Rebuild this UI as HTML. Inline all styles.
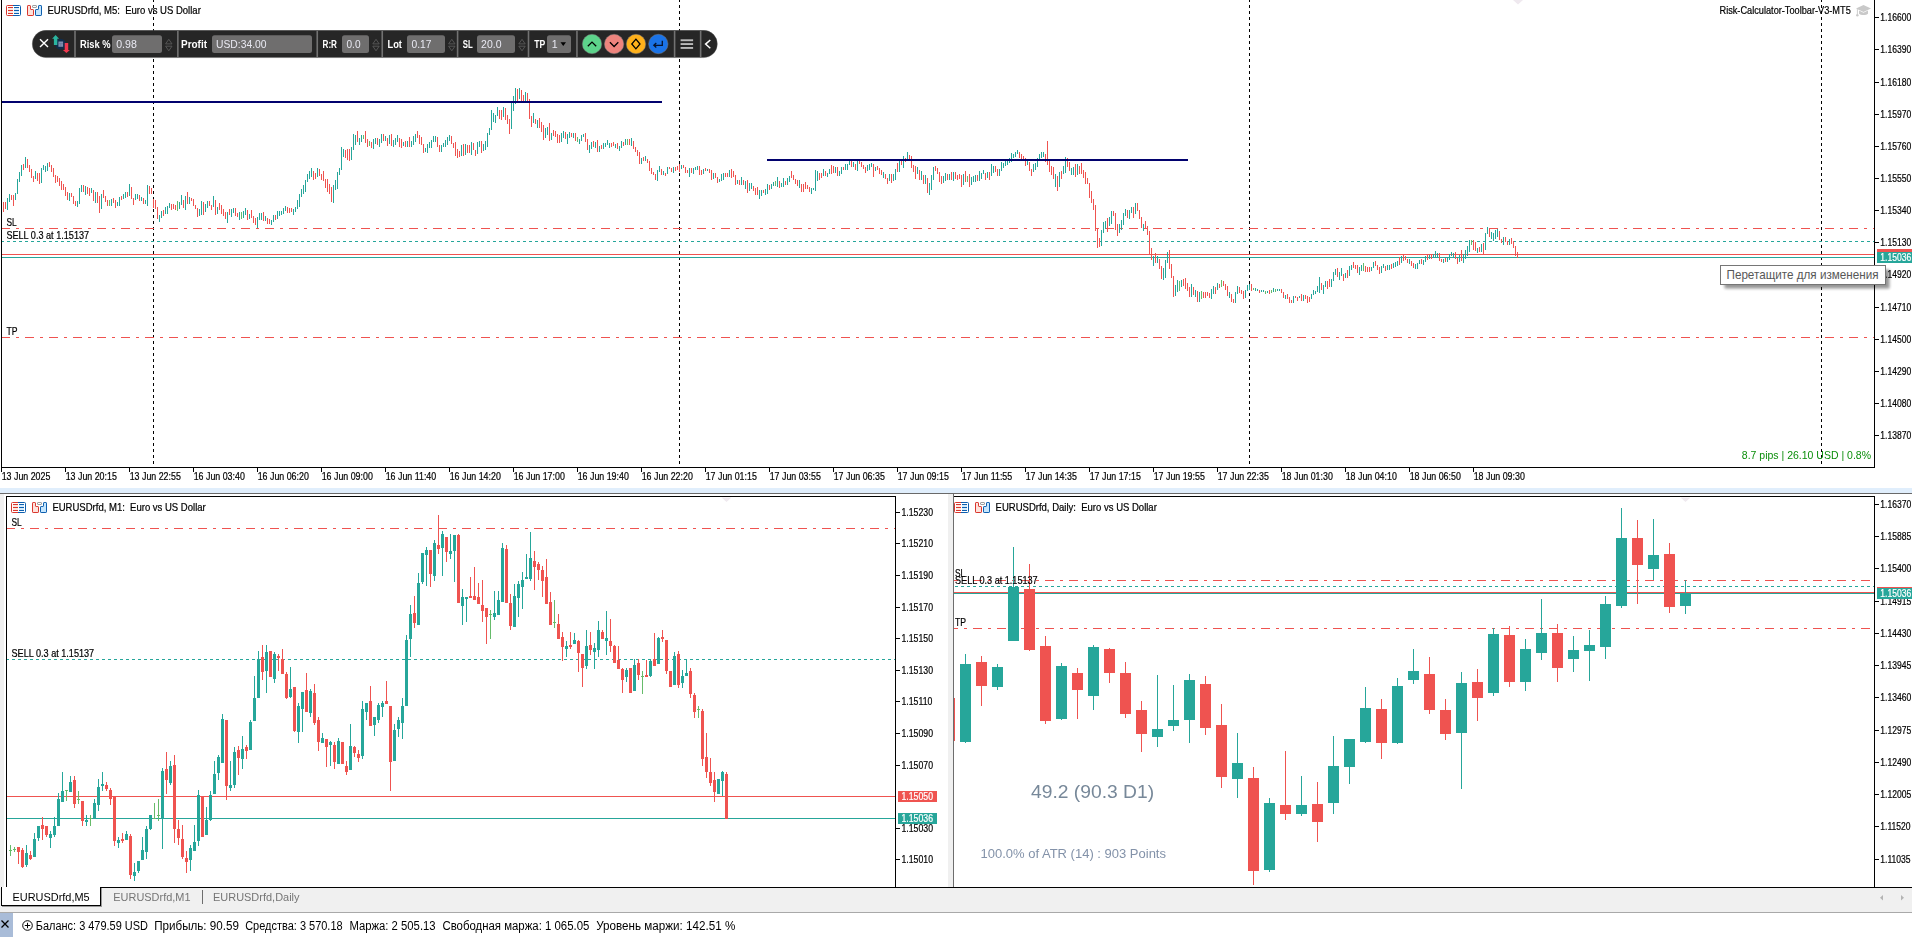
<!DOCTYPE html>
<html lang="ru"><head><meta charset="utf-8"><title>EURUSDrfd</title>
<style>html,body{margin:0;padding:0;background:#fff;width:1912px;height:937px;overflow:hidden}</style></head>
<body>
<svg width="1912" height="937" viewBox="0 0 1912 937" font-family='"Liberation Sans", sans-serif' style="display:block">
<rect x="0" y="0" width="1912" height="937" fill="#fff"/>
<g opacity="0.999">
<g shape-rendering="crispEdges">
<rect x="0" y="488" width="1912" height="5" fill="#e0eefc"/>
<rect x="0" y="493" width="1912" height="1" fill="#696969"/>
<rect x="0" y="494" width="4" height="393" fill="#f0f0f0"/>
<rect x="948" y="494" width="5" height="393" fill="#f0f0f0"/>
<rect x="953" y="494" width="1" height="393" fill="#6d6d6d"/>
<rect x="0" y="888" width="1912" height="24" fill="#f0f0f0"/>
<rect x="0" y="912" width="1912" height="1" fill="#a9a9a9"/>
<rect x="100" y="887" width="1812" height="1" fill="#000"/>
<rect x="1" y="887" width="100" height="19" fill="#fff"/>
<rect x="1" y="887" width="1" height="19" fill="#000"/>
<rect x="100" y="887" width="1" height="19" fill="#000"/>
<rect x="1" y="905" width="100" height="1" fill="#000"/>
<rect x="101" y="888" width="1" height="18" fill="#9a9a9a"/>
<rect x="2" y="906" width="100" height="1" fill="#9a9a9a"/>
<rect x="202" y="890" width="1" height="14" fill="#6d6d6d"/>
<rect x="0" y="913" width="1912" height="24" fill="#fff"/>
<rect x="0" y="913" width="13" height="24" fill="#a9bcd8"/>
</g>
<g shape-rendering="crispEdges">
<rect x="1" y="0" width="1" height="468" fill="#000"/>
<rect x="1" y="467" width="1874" height="1" fill="#000"/>
<rect x="1874" y="0" width="1" height="468" fill="#000"/>
<rect x="1875" y="17" width="4" height="1" fill="#000"/>
<rect x="1875" y="49" width="4" height="1" fill="#000"/>
<rect x="1875" y="82" width="4" height="1" fill="#000"/>
<rect x="1875" y="114" width="4" height="1" fill="#000"/>
<rect x="1875" y="146" width="4" height="1" fill="#000"/>
<rect x="1875" y="178" width="4" height="1" fill="#000"/>
<rect x="1875" y="210" width="4" height="1" fill="#000"/>
<rect x="1875" y="242" width="4" height="1" fill="#000"/>
<rect x="1875" y="274" width="4" height="1" fill="#000"/>
<rect x="1875" y="307" width="4" height="1" fill="#000"/>
<rect x="1875" y="339" width="4" height="1" fill="#000"/>
<rect x="1875" y="371" width="4" height="1" fill="#000"/>
<rect x="1875" y="403" width="4" height="1" fill="#000"/>
<rect x="1875" y="435" width="4" height="1" fill="#000"/>
<rect x="1" y="468" width="1" height="4" fill="#000"/>
<rect x="65" y="468" width="1" height="4" fill="#000"/>
<rect x="129" y="468" width="1" height="4" fill="#000"/>
<rect x="193" y="468" width="1" height="4" fill="#000"/>
<rect x="257" y="468" width="1" height="4" fill="#000"/>
<rect x="321" y="468" width="1" height="4" fill="#000"/>
<rect x="385" y="468" width="1" height="4" fill="#000"/>
<rect x="449" y="468" width="1" height="4" fill="#000"/>
<rect x="513" y="468" width="1" height="4" fill="#000"/>
<rect x="577" y="468" width="1" height="4" fill="#000"/>
<rect x="641" y="468" width="1" height="4" fill="#000"/>
<rect x="705" y="468" width="1" height="4" fill="#000"/>
<rect x="769" y="468" width="1" height="4" fill="#000"/>
<rect x="833" y="468" width="1" height="4" fill="#000"/>
<rect x="897" y="468" width="1" height="4" fill="#000"/>
<rect x="961" y="468" width="1" height="4" fill="#000"/>
<rect x="1025" y="468" width="1" height="4" fill="#000"/>
<rect x="1089" y="468" width="1" height="4" fill="#000"/>
<rect x="1153" y="468" width="1" height="4" fill="#000"/>
<rect x="1217" y="468" width="1" height="4" fill="#000"/>
<rect x="1281" y="468" width="1" height="4" fill="#000"/>
<rect x="1345" y="468" width="1" height="4" fill="#000"/>
<rect x="1409" y="468" width="1" height="4" fill="#000"/>
<rect x="1473" y="468" width="1" height="4" fill="#000"/>
<line x1="153.5" y1="0" x2="153.5" y2="467" stroke="#000" stroke-width="1" stroke-dasharray="3 3" stroke-dashoffset="1"/>
<line x1="679.5" y1="0" x2="679.5" y2="467" stroke="#000" stroke-width="1" stroke-dasharray="3 3" stroke-dashoffset="1"/>
<line x1="1249.5" y1="0" x2="1249.5" y2="467" stroke="#000" stroke-width="1" stroke-dasharray="3 3" stroke-dashoffset="1"/>
<line x1="1821.5" y1="0" x2="1821.5" y2="467" stroke="#000" stroke-width="1" stroke-dasharray="3 3" stroke-dashoffset="1"/>
<line x1="2" y1="228.5" x2="1874" y2="228.5" stroke="#ef5350" stroke-width="1" stroke-dasharray="9 6 3 6" stroke-dashoffset="1"/>
<line x1="2" y1="241.5" x2="1874" y2="241.5" stroke="#26a69a" stroke-width="1" stroke-dasharray="3 3" stroke-dashoffset="1"/>
<line x1="2" y1="337.5" x2="1874" y2="337.5" stroke="#ef5350" stroke-width="1" stroke-dasharray="9 6 3 6" stroke-dashoffset="1"/>
<rect x="2" y="254" width="1872" height="1" fill="#ef5350"/>
<rect x="2" y="257" width="1872" height="1" fill="#26a69a"/>
<path d="M3.5 202v10M5.5 202v7M11.5 195v5M13.5 195v11M23.5 164v6M27.5 159v9M29.5 165v7M31.5 169v9M33.5 176v6M37.5 173v8M39.5 173v11M49.5 162v5M51.5 165v7M53.5 168v9M55.5 175v8M57.5 176v6M59.5 178v8M61.5 181v9M63.5 184v6M65.5 187v9M67.5 192v8M71.5 193v4M73.5 196v8M75.5 201v5M83.5 185v7M87.5 187v7M89.5 188v8M93.5 190v11M97.5 192v11M99.5 196v17M103.5 190v8M105.5 196v6M107.5 200v6M113.5 198v5M115.5 200v8M121.5 196v4M127.5 192v5M131.5 187v12M133.5 198v7M139.5 195v6M143.5 198v6M149.5 186v8M151.5 188v6M153.5 199v9M155.5 200v9M157.5 207v12M163.5 210v6M171.5 204v6M173.5 204v5M175.5 205v5M183.5 200v8M187.5 192v12M191.5 198v3M193.5 199v7M195.5 205v4M197.5 208v9M203.5 202v13M209.5 201v5M211.5 205v5M215.5 200v15M219.5 203v7M221.5 205v9M223.5 209v7M225.5 212v7M229.5 209v6M235.5 208v8M237.5 213v4M247.5 210v10M251.5 210v8M253.5 216v7M255.5 218v7M263.5 212v9M267.5 218v6M269.5 219v5M275.5 215v5M287.5 207v6M289.5 208v5M291.5 208v4M313.5 171v9M315.5 173v6M319.5 169v7M321.5 174v6M323.5 171v10M325.5 179v9M327.5 179v13M329.5 184v10M331.5 187v15M345.5 150v8M347.5 149v11M349.5 149v12M357.5 131v11M365.5 131v12M367.5 139v8M371.5 142v6M377.5 138v7M383.5 134v7M387.5 138v8M391.5 134v12M399.5 138v9M401.5 139v9M405.5 141v6M409.5 137v10M417.5 131v7M419.5 135v9M421.5 137v8M423.5 144v9M437.5 137v10M439.5 145v7M451.5 136v8M453.5 143v5M455.5 142v14M457.5 149v9M459.5 151v6M463.5 144v12M467.5 145v8M469.5 145v8M473.5 143v7M475.5 150v6M481.5 141v12M499.5 110v9M501.5 110v10M505.5 108v12M507.5 115v9M509.5 119v15M517.5 89v12M521.5 90v11M523.5 95v6M527.5 93v8M529.5 99v20M531.5 116v11M535.5 119v5M539.5 118v10M541.5 122v10M543.5 125v15M549.5 123v18M553.5 130v6M555.5 131v6M557.5 134v9M559.5 135v8M565.5 132v7M571.5 133v4M575.5 133v8M585.5 133v9M587.5 139v11M593.5 141v6M597.5 140v12M601.5 145v4M611.5 143v4M613.5 142v4M617.5 143v6M623.5 142v4M629.5 139v6M633.5 141v8M635.5 147v5M637.5 150v6M639.5 152v12M643.5 157v4M647.5 159v4M649.5 161v10M651.5 168v6M653.5 172v3M655.5 174v6M661.5 169v6M665.5 173v3M669.5 167v2M671.5 168v4M675.5 167v4M677.5 166v4M679.5 164v8M683.5 165v3M685.5 167v6M687.5 170v3M691.5 168v5M699.5 166v9M701.5 170v5M705.5 168v3M709.5 169v4M711.5 170v10M715.5 173v5M717.5 177v6M725.5 173v4M727.5 173v4M731.5 169v9M733.5 171v6M735.5 175v10M739.5 180v5M743.5 180v5M747.5 180v13M753.5 186v5M755.5 188v7M757.5 187v8M763.5 190v3M769.5 185v5M779.5 181v7M785.5 181v4M791.5 171v7M793.5 175v5M795.5 179v5M797.5 180v6M801.5 184v8M803.5 184v8M805.5 182v7M807.5 185v4M809.5 187v5M819.5 173v7M821.5 173v5M825.5 171v5M831.5 165v9M833.5 166v7M837.5 167v9M843.5 167v3M851.5 161v6M855.5 164v6M859.5 161v3M861.5 162v5M863.5 165v4M865.5 167v6M873.5 164v13M877.5 166v4M879.5 168v6M881.5 170v5M885.5 174v5M887.5 178v6M891.5 174v9M897.5 163v9M901.5 161v4M905.5 158v4M909.5 155v4M911.5 156v12M913.5 165v7M915.5 166v13M919.5 170v10M923.5 175v9M927.5 178v15M935.5 166v5M937.5 168v6M939.5 172v10M941.5 176v8M947.5 174v6M951.5 172v8M955.5 172v7M957.5 175v5M959.5 174v5M961.5 175v12M965.5 171v11M969.5 174v13M977.5 175v6M985.5 173v7M989.5 172v8M995.5 166v6M997.5 169v7M1019.5 152v6M1021.5 154v5M1023.5 156v3M1025.5 158v8M1029.5 162v9M1031.5 169v7M1045.5 154v8M1047.5 141v24M1049.5 161v11M1051.5 166v9M1053.5 167v12M1057.5 176v15M1061.5 171v8M1067.5 158v9M1069.5 162v9M1075.5 164v13M1079.5 166v8M1081.5 163v11M1083.5 170v8M1085.5 172v12M1087.5 178v6M1089.5 183v15M1091.5 191v12M1093.5 199v11M1095.5 205v26M1097.5 228v20M1099.5 238v9M1107.5 218v14M1113.5 211v5M1115.5 213v17M1117.5 224v12M1127.5 210v8M1133.5 207v11M1137.5 203v8M1139.5 210v9M1141.5 217v11M1145.5 221v8M1147.5 226v9M1149.5 231v24M1151.5 248v12M1155.5 253v10M1159.5 259v10M1161.5 266v13M1169.5 250v19M1171.5 264v14M1173.5 276v21M1183.5 279v7M1185.5 278v11M1187.5 283v8M1189.5 287v10M1193.5 287v8M1197.5 291v11M1203.5 292v6M1205.5 292v6M1207.5 292v4M1209.5 293v5M1215.5 287v7M1219.5 284v4M1223.5 281v5M1225.5 284v6M1227.5 286v10M1231.5 294v8M1233.5 299v4M1239.5 287v6M1241.5 290v4M1243.5 291v8M1251.5 284v7M1259.5 290v3M1269.5 290v4M1281.5 289v4M1283.5 292v6M1287.5 294v5M1289.5 297v6M1291.5 300v3M1295.5 296v2M1297.5 297v4M1301.5 294v7M1305.5 295v4M1307.5 296v7M1309.5 297v5M1321.5 283v7M1327.5 281v8M1329.5 279v8M1337.5 268v9M1343.5 274v7M1347.5 270v8M1353.5 262v6M1355.5 265v4M1357.5 265v8M1365.5 266v6M1367.5 267v5M1369.5 267v5M1375.5 261v5M1377.5 265v5M1379.5 267v7M1385.5 266v5M1391.5 264v5M1399.5 257v8M1403.5 254v7M1405.5 256v4M1407.5 259v4M1411.5 261v5M1413.5 263v5M1421.5 259v5M1427.5 255v5M1431.5 254v5M1439.5 253v8M1441.5 259v3M1445.5 258v4M1455.5 252v7M1457.5 258v6M1461.5 250v11M1473.5 240v10M1475.5 242v9M1479.5 247v5M1483.5 243v11M1489.5 228v9M1499.5 231v9M1501.5 239v4M1505.5 237v5M1507.5 241v4M1511.5 238v6M1513.5 241v7M1515.5 246v10M1517.5 252v6" stroke="#ef5350" stroke-width="1" fill="none"/><path d="M7.5 198v12M9.5 194v8M15.5 193v7M17.5 179v15M19.5 172v10M21.5 165v11M25.5 157v11M35.5 171v8M41.5 168v15M43.5 165v5M45.5 166v6M47.5 163v8M69.5 193v8M77.5 201v6M79.5 188v16M81.5 185v7M85.5 186v9M91.5 188v5M95.5 192v11M101.5 194v15M111.5 199v7M117.5 202v4M119.5 197v9M123.5 194v5M125.5 192v6M129.5 184v12M135.5 194v6M137.5 194v5M141.5 197v4M145.5 200v4M147.5 185v21M159.5 215v7M161.5 211v7M165.5 207v7M167.5 206v8M169.5 203v5M179.5 202v7M181.5 195v10M185.5 196v14M189.5 197v7M199.5 209v7M201.5 201v14M205.5 204v8M207.5 201v7M213.5 196v11M217.5 207v7M227.5 212v11M231.5 209v8M233.5 208v5M239.5 212v8M243.5 211v7M245.5 208v7M249.5 214v5M257.5 217v11M259.5 213v7M261.5 213v7M265.5 216v5M271.5 220v5M273.5 215v7M277.5 211v8M279.5 211v5M281.5 211v4M283.5 208v6M285.5 206v5M293.5 209v6M295.5 207v5M297.5 200v9M299.5 194v13M301.5 189v8M303.5 185v9M305.5 180v12M307.5 174v8M309.5 171v8M311.5 168v9M317.5 168v9M333.5 185v18M335.5 180v10M337.5 172v17M339.5 168v7M341.5 147v23M343.5 149v8M351.5 147v13M353.5 134v16M355.5 135v10M359.5 138v7M361.5 135v7M373.5 139v10M375.5 138v6M379.5 139v8M381.5 134v9M385.5 136v5M389.5 135v9M393.5 140v7M395.5 138v7M397.5 135v7M403.5 142v4M407.5 141v6M411.5 141v6M413.5 136v9M415.5 134v8M425.5 148v4M427.5 144v9M429.5 142v6M431.5 140v8M433.5 136v6M435.5 136v6M441.5 145v7M443.5 143v4M445.5 140v7M447.5 137v8M449.5 135v6M461.5 145v11M465.5 144v11M471.5 142v13M477.5 142v12M479.5 141v6M483.5 144v7M485.5 141v9M487.5 133v14M489.5 128v7M491.5 110v20M493.5 113v9M495.5 115v8M497.5 107v9M503.5 107v10M511.5 103v26M513.5 96v15M515.5 88v16M519.5 88v11M525.5 92v9M533.5 113v10M537.5 120v8M545.5 128v10M547.5 127v8M551.5 133v7M561.5 133v9M563.5 131v7M567.5 134v10M569.5 132v6M573.5 133v5M579.5 139v5M581.5 135v6M583.5 134v3M589.5 145v8M591.5 142v7M595.5 142v6M599.5 146v6M603.5 143v6M605.5 143v4M607.5 140v5M609.5 143v5M615.5 144v4M619.5 146v5M621.5 141v7M625.5 139v6M631.5 138v8M641.5 158v6M645.5 156v5M657.5 170v11M659.5 166v6M663.5 171v4M667.5 167v7M673.5 167v6M681.5 165v4M689.5 168v9M693.5 168v6M695.5 167v3M697.5 166v4M703.5 169v5M707.5 169v2M713.5 173v6M719.5 179v3M721.5 174v7M723.5 173v7M729.5 170v7M737.5 180v4M741.5 177v8M745.5 181v8M749.5 183v8M751.5 183v6M759.5 190v9M761.5 190v6M765.5 189v6M767.5 184v10M771.5 184v5M773.5 182v4M777.5 177v10M781.5 183v4M783.5 178v9M787.5 178v7M789.5 176v6M799.5 180v8M811.5 188v6M813.5 188v2M815.5 170v21M817.5 171v10M823.5 169v7M827.5 173v4M829.5 169v5M835.5 167v6M839.5 171v5M841.5 167v7M845.5 164v6M847.5 164v6M849.5 161v4M853.5 162v5M857.5 161v10M867.5 165v6M869.5 164v6M871.5 163v4M875.5 167v4M883.5 172v6M889.5 174v7M893.5 174v7M895.5 169v11M899.5 161v11M903.5 156v12M907.5 152v7M917.5 167v7M921.5 171v9M925.5 175v9M929.5 183v12M931.5 175v15M933.5 167v13M943.5 176v7M945.5 173v8M949.5 174v6M953.5 172v9M963.5 174v11M971.5 177v8M973.5 176v6M975.5 175v7M979.5 171v10M981.5 173v6M983.5 170v4M987.5 172v6M991.5 164v12M993.5 166v7M999.5 169v7M1001.5 162v9M1003.5 163v5M1005.5 161v5M1007.5 160v5M1009.5 158v5M1011.5 153v9M1013.5 154v4M1015.5 152v5M1017.5 150v4M1027.5 161v4M1033.5 164v8M1035.5 163v7M1037.5 158v9M1039.5 154v6M1041.5 152v6M1043.5 152v5M1055.5 174v13M1059.5 172v15M1063.5 166v8M1065.5 157v16M1071.5 168v7M1073.5 167v8M1077.5 164v11M1101.5 230v16M1103.5 222v11M1105.5 221v8M1109.5 217v9M1111.5 211v13M1119.5 224v9M1121.5 220v10M1123.5 213v12M1125.5 209v7M1129.5 210v9M1131.5 207v6M1135.5 203v11M1143.5 224v7M1153.5 256v10M1157.5 256v7M1163.5 268v12M1165.5 260v18M1167.5 252v11M1175.5 285v11M1177.5 280v12M1181.5 280v7M1191.5 284v13M1195.5 290v7M1199.5 292v10M1211.5 289v10M1213.5 286v8M1217.5 283v7M1229.5 292v6M1235.5 292v11M1237.5 286v8M1245.5 290v8M1247.5 285v6M1249.5 284v6M1255.5 288v3M1257.5 289v2M1261.5 290v2M1263.5 290v2M1267.5 291v2M1273.5 288v4M1277.5 289v2M1279.5 289v2M1285.5 295v4M1293.5 296v7M1299.5 296v2M1303.5 295v6M1311.5 294v5M1313.5 290v5M1315.5 291v3M1317.5 286v6M1319.5 277v16M1323.5 285v9M1325.5 281v6M1331.5 279v8M1333.5 272v9M1335.5 269v6M1339.5 272v8M1341.5 268v8M1345.5 273v5M1349.5 266v10M1351.5 265v5M1359.5 267v8M1361.5 265v6M1371.5 267v4M1373.5 262v6M1381.5 266v7M1383.5 264v4M1387.5 265v5M1389.5 265v5M1393.5 263v5M1395.5 262v5M1397.5 261v5M1401.5 256v7M1409.5 259v5M1415.5 264v5M1417.5 263v6M1419.5 260v4M1423.5 260v5M1425.5 256v6M1429.5 255v4M1433.5 254v4M1435.5 251v7M1437.5 253v5M1443.5 259v4M1447.5 258v4M1449.5 254v6M1451.5 252v4M1453.5 253v5M1459.5 255v7M1463.5 254v9M1465.5 250v9M1467.5 246v10M1469.5 240v12M1477.5 248v5M1481.5 244v8M1485.5 233v17M1487.5 227v7M1491.5 232v7M1493.5 233v8M1495.5 230v9M1497.5 229v8M1503.5 237v8M1509.5 239v6" stroke="#26a69a" stroke-width="1" fill="none"/><path d="M109.5 200v6M177.5 201v10M241.5 212v7M363.5 135v4M369.5 141v5M577.5 137v5M627.5 139v6M775.5 181v5M967.5 176v6M1179.5 281v10M1201.5 291v8M1221.5 280v7M1253.5 288v2M1265.5 291v3M1271.5 290v3M1275.5 289v3M1363.5 263v8M1471.5 240v5" stroke="#66bb6a" stroke-width="1" fill="none"/>
<rect x="2" y="101" width="660" height="2" fill="#00006e"/>
<rect x="767" y="159" width="421" height="2" fill="#00006e"/>
</g>
<text transform="translate(1880.3 21) scale(0.832 1)" font-size="10.3" fill="#000" stroke="#000" stroke-width="0.220">1.16600</text>
<text transform="translate(1880.3 53) scale(0.832 1)" font-size="10.3" fill="#000" stroke="#000" stroke-width="0.220">1.16390</text>
<text transform="translate(1880.3 86) scale(0.832 1)" font-size="10.3" fill="#000" stroke="#000" stroke-width="0.220">1.16180</text>
<text transform="translate(1880.3 118) scale(0.832 1)" font-size="10.3" fill="#000" stroke="#000" stroke-width="0.220">1.15970</text>
<text transform="translate(1880.3 150) scale(0.832 1)" font-size="10.3" fill="#000" stroke="#000" stroke-width="0.220">1.15760</text>
<text transform="translate(1880.3 182) scale(0.832 1)" font-size="10.3" fill="#000" stroke="#000" stroke-width="0.220">1.15550</text>
<text transform="translate(1880.3 214) scale(0.832 1)" font-size="10.3" fill="#000" stroke="#000" stroke-width="0.220">1.15340</text>
<text transform="translate(1880.3 246) scale(0.832 1)" font-size="10.3" fill="#000" stroke="#000" stroke-width="0.220">1.15130</text>
<text transform="translate(1880.3 278) scale(0.832 1)" font-size="10.3" fill="#000" stroke="#000" stroke-width="0.220">1.14920</text>
<text transform="translate(1880.3 311) scale(0.832 1)" font-size="10.3" fill="#000" stroke="#000" stroke-width="0.220">1.14710</text>
<text transform="translate(1880.3 343) scale(0.832 1)" font-size="10.3" fill="#000" stroke="#000" stroke-width="0.220">1.14500</text>
<text transform="translate(1880.3 375) scale(0.832 1)" font-size="10.3" fill="#000" stroke="#000" stroke-width="0.220">1.14290</text>
<text transform="translate(1880.3 407) scale(0.832 1)" font-size="10.3" fill="#000" stroke="#000" stroke-width="0.220">1.14080</text>
<text transform="translate(1880.3 439) scale(0.832 1)" font-size="10.3" fill="#000" stroke="#000" stroke-width="0.220">1.13870</text>
<text transform="translate(1.7 479.8) scale(0.859 1)" font-size="10.3" fill="#000" stroke="#000" stroke-width="0.220">13 Jun 2025</text>
<text transform="translate(65.7 479.8) scale(0.859 1)" font-size="10.3" fill="#000" stroke="#000" stroke-width="0.220">13 Jun 20:15</text>
<text transform="translate(129.7 479.8) scale(0.859 1)" font-size="10.3" fill="#000" stroke="#000" stroke-width="0.220">13 Jun 22:55</text>
<text transform="translate(193.7 479.8) scale(0.859 1)" font-size="10.3" fill="#000" stroke="#000" stroke-width="0.220">16 Jun 03:40</text>
<text transform="translate(257.7 479.8) scale(0.859 1)" font-size="10.3" fill="#000" stroke="#000" stroke-width="0.220">16 Jun 06:20</text>
<text transform="translate(321.7 479.8) scale(0.859 1)" font-size="10.3" fill="#000" stroke="#000" stroke-width="0.220">16 Jun 09:00</text>
<text transform="translate(385.7 479.8) scale(0.859 1)" font-size="10.3" fill="#000" stroke="#000" stroke-width="0.220">16 Jun 11:40</text>
<text transform="translate(449.7 479.8) scale(0.859 1)" font-size="10.3" fill="#000" stroke="#000" stroke-width="0.220">16 Jun 14:20</text>
<text transform="translate(513.7 479.8) scale(0.859 1)" font-size="10.3" fill="#000" stroke="#000" stroke-width="0.220">16 Jun 17:00</text>
<text transform="translate(577.7 479.8) scale(0.859 1)" font-size="10.3" fill="#000" stroke="#000" stroke-width="0.220">16 Jun 19:40</text>
<text transform="translate(641.7 479.8) scale(0.859 1)" font-size="10.3" fill="#000" stroke="#000" stroke-width="0.220">16 Jun 22:20</text>
<text transform="translate(705.7 479.8) scale(0.859 1)" font-size="10.3" fill="#000" stroke="#000" stroke-width="0.220">17 Jun 01:15</text>
<text transform="translate(769.7 479.8) scale(0.859 1)" font-size="10.3" fill="#000" stroke="#000" stroke-width="0.220">17 Jun 03:55</text>
<text transform="translate(833.7 479.8) scale(0.859 1)" font-size="10.3" fill="#000" stroke="#000" stroke-width="0.220">17 Jun 06:35</text>
<text transform="translate(897.7 479.8) scale(0.859 1)" font-size="10.3" fill="#000" stroke="#000" stroke-width="0.220">17 Jun 09:15</text>
<text transform="translate(961.7 479.8) scale(0.859 1)" font-size="10.3" fill="#000" stroke="#000" stroke-width="0.220">17 Jun 11:55</text>
<text transform="translate(1025.7 479.8) scale(0.859 1)" font-size="10.3" fill="#000" stroke="#000" stroke-width="0.220">17 Jun 14:35</text>
<text transform="translate(1089.7 479.8) scale(0.859 1)" font-size="10.3" fill="#000" stroke="#000" stroke-width="0.220">17 Jun 17:15</text>
<text transform="translate(1153.7 479.8) scale(0.859 1)" font-size="10.3" fill="#000" stroke="#000" stroke-width="0.220">17 Jun 19:55</text>
<text transform="translate(1217.7 479.8) scale(0.859 1)" font-size="10.3" fill="#000" stroke="#000" stroke-width="0.220">17 Jun 22:35</text>
<text transform="translate(1281.7 479.8) scale(0.859 1)" font-size="10.3" fill="#000" stroke="#000" stroke-width="0.220">18 Jun 01:30</text>
<text transform="translate(1345.7 479.8) scale(0.859 1)" font-size="10.3" fill="#000" stroke="#000" stroke-width="0.220">18 Jun 04:10</text>
<text transform="translate(1409.7 479.8) scale(0.859 1)" font-size="10.3" fill="#000" stroke="#000" stroke-width="0.220">18 Jun 06:50</text>
<text transform="translate(1473.7 479.8) scale(0.859 1)" font-size="10.3" fill="#000" stroke="#000" stroke-width="0.220">18 Jun 09:30</text>
<g transform="translate(6,5)">
<rect x="0.500" y="0.500" width="14" height="10" rx="1.500" fill="#fff"/>
<rect x="2" y="3" width="5" height="5" fill="#fde6df"/><rect x="8" y="3" width="5" height="5" fill="#d3ebfc"/>
<path d="M7 0.500H1.500A1 1 0 0 0 0.500 1.500V9.500A1 1 0 0 0 1.500 10.500H7" fill="none" stroke="#d9362d"/>
<path d="M7 0.500H13.500A1 1 0 0 1 14.500 1.500V9.500A1 1 0 0 1 13.500 10.500H7" fill="none" stroke="#0c5eae"/>
<path d="M2 2.500h5M2 5.500h5M2 8.500h5" stroke="#d9362d" stroke-width="1" shape-rendering="crispEdges"/>
<path d="M8 2.500h5M8 5.500h5M8 8.500h5" stroke="#0c5eae" stroke-width="1" shape-rendering="crispEdges"/>
<path transform="translate(21,0)" d="M0.500 9.900V1.100A0.600 0.600 0 0 1 1.100 0.500H2.900A0.600 0.600 0 0 1 3.500 1.100V3.900A0.600 0.600 0 0 0 4.100 4.500H5.900A0.600 0.600 0 0 1 6.500 5.100V9.900A0.600 0.600 0 0 1 5.900 10.500H1.100A0.600 0.600 0 0 1 0.500 9.900Z" fill="#fee2db" stroke="#d9362d"/>
<path transform="translate(29,0)" d="M6.500 9.900V1.100A0.600 0.600 0 0 0 5.900 0.500H4.100A0.600 0.600 0 0 0 3.500 1.100V3.900A0.600 0.600 0 0 1 2.900 4.500H1.100A0.600 0.600 0 0 0 0.500 5.100V9.900A0.600 0.600 0 0 0 1.100 10.500H5.900A0.600 0.600 0 0 0 6.500 9.900Z" fill="#c6e6fd" stroke="#0c5eae"/>
<rect x="26.500" y="0.500" width="4" height="2" rx="0.400" fill="#fff" stroke="#a0a0a0" stroke-width="1"/>
</g>
<text transform="translate(47.5 13.8) scale(0.925 1)" font-size="10.3" fill="#000" xml:space="preserve" stroke="#000" stroke-width="0.220">EURUSDrfd, M5:  Euro vs US Dollar</text>
<text transform="translate(1719.5 13.8) scale(0.894 1)" font-size="10.3" fill="#000" stroke="#000" stroke-width="0.220">Risk-Calculator-Toolbar-V3-MT5</text>
<g transform="translate(1856,5)" fill="#c9c9c9"><path d="M7.500 0L15 3.500L7.500 7L0 3.500z"/><path d="M3 5.600v3.200c1.500 1.600 7.500 1.600 9 0v-3.200L7.500 7.700z"/><path d="M0.900 4v5.500h0.900V4.300z"/><circle cx="1.350" cy="10.300" r="1.200"/></g>
<text transform="translate(6.4 225.8) scale(0.81 1)" font-size="10.3" fill="#000" stroke="#000" stroke-width="0.220">SL</text>
<text transform="translate(6.4 239.3) scale(0.884 1)" font-size="10.3" fill="#000" stroke="#000" stroke-width="0.220">SELL 0.3 at 1.15137</text>
<text transform="translate(6.4 334.5) scale(0.838 1)" font-size="10.3" fill="#000" stroke="#000" stroke-width="0.220">TP</text>
<text x="1871" y="459" font-size="10.5" fill="#0b8e0b" text-anchor="end">8.7 pips | 26.10 USD | 0.8%</text>
<g shape-rendering="crispEdges">
<rect x="1877" y="249" width="35" height="4" fill="#ef5350"/>
<rect x="1877" y="252" width="35" height="11" fill="#26a69a"/>
</g>
<text transform="translate(1880.3 261) scale(0.832 1)" font-size="10.3" fill="#fff" stroke="#fff" stroke-width="0.220">1.15036</text>
<path d="M1513 0h10l-5 4.500z" fill="#efe9ef"/><path d="M721.500 497.500h10l-5 4.500z" fill="#efe9ef"/><path d="M1680.500 497.500h10l-5 4.500z" fill="#efe9ef"/>
<rect x="1724.500" y="269.500" width="165" height="19" fill="#000" opacity="0.420" filter="url(#blur)"/>
<defs><filter id="blur" x="-10%" y="-30%" width="120%" height="170%"><feGaussianBlur stdDeviation="1.500"/></filter></defs>
<rect x="1720.500" y="265.500" width="165" height="19" fill="#fff" stroke="#767676" shape-rendering="crispEdges"/>
<text x="1726.5" y="278.9" font-size="12.7" fill="#575757" textLength="152" lengthAdjust="spacingAndGlyphs">Перетащите для изменения</text>
<g shape-rendering="crispEdges">
<rect x="6" y="496" width="1" height="391" fill="#000"/>
<rect x="6" y="496" width="890" height="1" fill="#000"/>
<rect x="895" y="496" width="1" height="391" fill="#000"/>
<rect x="896" y="512" width="4" height="1" fill="#000"/>
<rect x="896" y="543" width="4" height="1" fill="#000"/>
<rect x="896" y="575" width="4" height="1" fill="#000"/>
<rect x="896" y="607" width="4" height="1" fill="#000"/>
<rect x="896" y="638" width="4" height="1" fill="#000"/>
<rect x="896" y="670" width="4" height="1" fill="#000"/>
<rect x="896" y="701" width="4" height="1" fill="#000"/>
<rect x="896" y="733" width="4" height="1" fill="#000"/>
<rect x="896" y="765" width="4" height="1" fill="#000"/>
<rect x="896" y="828" width="4" height="1" fill="#000"/>
<rect x="896" y="859" width="4" height="1" fill="#000"/>
<line x1="7" y1="528.5" x2="895" y2="528.5" stroke="#ef5350" stroke-width="1" stroke-dasharray="9 6 3 6" stroke-dashoffset="1"/>
<line x1="7" y1="659.5" x2="895" y2="659.5" stroke="#26a69a" stroke-width="1" stroke-dasharray="3 3" stroke-dashoffset="1"/>
<rect x="7" y="796" width="888" height="1" fill="#ef5350"/>
<rect x="7" y="818" width="888" height="1" fill="#26a69a"/>
<rect x="10" y="845" width="1" height="11" fill="#66bb6a"/><rect x="9" y="850" width="3" height="1" fill="#66bb6a"/><rect x="14" y="847" width="1" height="5" fill="#66bb6a"/><rect x="13" y="849" width="3" height="1" fill="#66bb6a"/><rect x="18" y="847" width="1" height="17" fill="#ef5350"/><rect x="17" y="847" width="3" height="5" fill="#ef5350"/><rect x="22" y="848" width="1" height="20" fill="#ef5350"/><rect x="21" y="850" width="3" height="17" fill="#ef5350"/><rect x="26" y="845" width="1" height="22" fill="#26a69a"/><rect x="25" y="853" width="3" height="12" fill="#26a69a"/><rect x="30" y="851" width="1" height="9" fill="#ef5350"/><rect x="29" y="855" width="3" height="4" fill="#ef5350"/><rect x="34" y="833" width="1" height="24" fill="#26a69a"/><rect x="33" y="839" width="3" height="18" fill="#26a69a"/><rect x="38" y="826" width="1" height="15" fill="#26a69a"/><rect x="37" y="826" width="3" height="12" fill="#26a69a"/><rect x="42" y="817" width="1" height="23" fill="#ef5350"/><rect x="41" y="825" width="3" height="4" fill="#ef5350"/><rect x="46" y="826" width="1" height="11" fill="#ef5350"/><rect x="45" y="826" width="3" height="9" fill="#ef5350"/><rect x="50" y="831" width="1" height="17" fill="#26a69a"/><rect x="49" y="834" width="3" height="4" fill="#26a69a"/><rect x="54" y="817" width="1" height="20" fill="#26a69a"/><rect x="53" y="826" width="3" height="9" fill="#26a69a"/><rect x="58" y="793" width="1" height="33" fill="#26a69a"/><rect x="57" y="799" width="3" height="27" fill="#26a69a"/><rect x="62" y="772" width="1" height="30" fill="#26a69a"/><rect x="61" y="791" width="3" height="11" fill="#26a69a"/><rect x="66" y="790" width="1" height="11" fill="#66bb6a"/><rect x="65" y="790" width="3" height="1" fill="#66bb6a"/><rect x="70" y="776" width="1" height="16" fill="#26a69a"/><rect x="69" y="782" width="3" height="10" fill="#26a69a"/><rect x="74" y="776" width="1" height="32" fill="#ef5350"/><rect x="73" y="780" width="3" height="24" fill="#ef5350"/><rect x="78" y="791" width="1" height="13" fill="#66bb6a"/><rect x="77" y="799" width="3" height="1" fill="#66bb6a"/><rect x="82" y="801" width="1" height="25" fill="#ef5350"/><rect x="81" y="801" width="3" height="20" fill="#ef5350"/><rect x="86" y="815" width="1" height="11" fill="#26a69a"/><rect x="85" y="820" width="3" height="2" fill="#26a69a"/><rect x="90" y="815" width="1" height="11" fill="#66bb6a"/><rect x="89" y="818" width="3" height="1" fill="#66bb6a"/><rect x="94" y="799" width="1" height="19" fill="#26a69a"/><rect x="93" y="803" width="3" height="15" fill="#26a69a"/><rect x="98" y="779" width="1" height="32" fill="#26a69a"/><rect x="97" y="787" width="3" height="18" fill="#26a69a"/><rect x="102" y="772" width="1" height="19" fill="#26a69a"/><rect x="101" y="784" width="3" height="2" fill="#26a69a"/><rect x="106" y="782" width="1" height="9" fill="#ef5350"/><rect x="105" y="785" width="3" height="4" fill="#ef5350"/><rect x="110" y="788" width="1" height="17" fill="#ef5350"/><rect x="109" y="790" width="3" height="9" fill="#ef5350"/><rect x="114" y="796" width="1" height="50" fill="#ef5350"/><rect x="113" y="796" width="3" height="45" fill="#ef5350"/><rect x="118" y="837" width="1" height="11" fill="#26a69a"/><rect x="117" y="840" width="3" height="3" fill="#26a69a"/><rect x="122" y="833" width="1" height="10" fill="#ef5350"/><rect x="121" y="839" width="3" height="2" fill="#ef5350"/><rect x="126" y="831" width="1" height="9" fill="#26a69a"/><rect x="125" y="834" width="3" height="6" fill="#26a69a"/><rect x="130" y="834" width="1" height="45" fill="#ef5350"/><rect x="129" y="836" width="3" height="39" fill="#ef5350"/><rect x="134" y="863" width="1" height="18" fill="#26a69a"/><rect x="133" y="872" width="3" height="4" fill="#26a69a"/><rect x="138" y="861" width="1" height="12" fill="#26a69a"/><rect x="137" y="861" width="3" height="10" fill="#26a69a"/><rect x="142" y="837" width="1" height="23" fill="#26a69a"/><rect x="141" y="850" width="3" height="10" fill="#26a69a"/><rect x="146" y="826" width="1" height="33" fill="#26a69a"/><rect x="145" y="829" width="3" height="23" fill="#26a69a"/><rect x="150" y="815" width="1" height="15" fill="#26a69a"/><rect x="149" y="815" width="3" height="14" fill="#26a69a"/><rect x="154" y="803" width="1" height="16" fill="#66bb6a"/><rect x="153" y="818" width="3" height="1" fill="#66bb6a"/><rect x="158" y="799" width="1" height="22" fill="#66bb6a"/><rect x="157" y="815" width="3" height="1" fill="#66bb6a"/><rect x="162" y="768" width="1" height="81" fill="#26a69a"/><rect x="161" y="771" width="3" height="47" fill="#26a69a"/><rect x="166" y="752" width="1" height="42" fill="#ef5350"/><rect x="165" y="769" width="3" height="11" fill="#ef5350"/><rect x="170" y="761" width="1" height="24" fill="#26a69a"/><rect x="169" y="766" width="3" height="17" fill="#26a69a"/><rect x="174" y="755" width="1" height="88" fill="#ef5350"/><rect x="173" y="765" width="3" height="64" fill="#ef5350"/><rect x="178" y="820" width="1" height="25" fill="#ef5350"/><rect x="177" y="829" width="3" height="9" fill="#ef5350"/><rect x="182" y="825" width="1" height="34" fill="#ef5350"/><rect x="181" y="839" width="3" height="18" fill="#ef5350"/><rect x="186" y="851" width="1" height="22" fill="#ef5350"/><rect x="185" y="858" width="3" height="4" fill="#ef5350"/><rect x="190" y="845" width="1" height="26" fill="#26a69a"/><rect x="189" y="848" width="3" height="12" fill="#26a69a"/><rect x="194" y="825" width="1" height="26" fill="#26a69a"/><rect x="193" y="842" width="3" height="9" fill="#26a69a"/><rect x="198" y="790" width="1" height="56" fill="#26a69a"/><rect x="197" y="795" width="3" height="46" fill="#26a69a"/><rect x="202" y="796" width="1" height="41" fill="#ef5350"/><rect x="201" y="796" width="3" height="41" fill="#ef5350"/><rect x="206" y="807" width="1" height="28" fill="#26a69a"/><rect x="205" y="820" width="3" height="15" fill="#26a69a"/><rect x="210" y="791" width="1" height="30" fill="#26a69a"/><rect x="209" y="795" width="3" height="25" fill="#26a69a"/><rect x="214" y="761" width="1" height="33" fill="#26a69a"/><rect x="213" y="774" width="3" height="20" fill="#26a69a"/><rect x="218" y="755" width="1" height="25" fill="#26a69a"/><rect x="217" y="757" width="3" height="16" fill="#26a69a"/><rect x="222" y="714" width="1" height="49" fill="#26a69a"/><rect x="221" y="719" width="3" height="44" fill="#26a69a"/><rect x="226" y="720" width="1" height="80" fill="#ef5350"/><rect x="225" y="720" width="3" height="66" fill="#ef5350"/><rect x="230" y="761" width="1" height="30" fill="#26a69a"/><rect x="229" y="785" width="3" height="3" fill="#26a69a"/><rect x="234" y="747" width="1" height="41" fill="#26a69a"/><rect x="233" y="752" width="3" height="33" fill="#26a69a"/><rect x="238" y="746" width="1" height="29" fill="#ef5350"/><rect x="237" y="750" width="3" height="8" fill="#ef5350"/><rect x="242" y="736" width="1" height="33" fill="#26a69a"/><rect x="241" y="749" width="3" height="10" fill="#26a69a"/><rect x="246" y="745" width="1" height="14" fill="#ef5350"/><rect x="245" y="747" width="3" height="4" fill="#ef5350"/><rect x="250" y="720" width="1" height="30" fill="#26a69a"/><rect x="249" y="722" width="3" height="28" fill="#26a69a"/><rect x="254" y="676" width="1" height="45" fill="#26a69a"/><rect x="253" y="698" width="3" height="23" fill="#26a69a"/><rect x="258" y="651" width="1" height="47" fill="#26a69a"/><rect x="257" y="659" width="3" height="39" fill="#26a69a"/><rect x="262" y="645" width="1" height="35" fill="#ef5350"/><rect x="261" y="657" width="3" height="15" fill="#ef5350"/><rect x="266" y="645" width="1" height="48" fill="#26a69a"/><rect x="265" y="652" width="3" height="19" fill="#26a69a"/><rect x="270" y="651" width="1" height="26" fill="#ef5350"/><rect x="269" y="651" width="3" height="26" fill="#ef5350"/><rect x="274" y="652" width="1" height="31" fill="#26a69a"/><rect x="273" y="654" width="3" height="25" fill="#26a69a"/><rect x="278" y="654" width="1" height="17" fill="#ef5350"/><rect x="277" y="656" width="3" height="2" fill="#ef5350"/><rect x="282" y="649" width="1" height="25" fill="#ef5350"/><rect x="281" y="659" width="3" height="15" fill="#ef5350"/><rect x="286" y="672" width="1" height="27" fill="#ef5350"/><rect x="285" y="674" width="3" height="24" fill="#ef5350"/><rect x="290" y="667" width="1" height="31" fill="#26a69a"/><rect x="289" y="689" width="3" height="8" fill="#26a69a"/><rect x="294" y="687" width="1" height="45" fill="#ef5350"/><rect x="293" y="687" width="3" height="44" fill="#ef5350"/><rect x="298" y="703" width="1" height="40" fill="#26a69a"/><rect x="297" y="706" width="3" height="26" fill="#26a69a"/><rect x="302" y="692" width="1" height="40" fill="#26a69a"/><rect x="301" y="692" width="3" height="17" fill="#26a69a"/><rect x="306" y="673" width="1" height="39" fill="#ef5350"/><rect x="305" y="690" width="3" height="22" fill="#ef5350"/><rect x="310" y="689" width="1" height="28" fill="#26a69a"/><rect x="309" y="691" width="3" height="22" fill="#26a69a"/><rect x="314" y="684" width="1" height="41" fill="#ef5350"/><rect x="313" y="693" width="3" height="30" fill="#ef5350"/><rect x="318" y="717" width="1" height="34" fill="#ef5350"/><rect x="317" y="720" width="3" height="22" fill="#ef5350"/><rect x="322" y="733" width="1" height="10" fill="#26a69a"/><rect x="321" y="738" width="3" height="5" fill="#26a69a"/><rect x="326" y="739" width="1" height="28" fill="#ef5350"/><rect x="325" y="739" width="3" height="8" fill="#ef5350"/><rect x="330" y="741" width="1" height="25" fill="#26a69a"/><rect x="329" y="742" width="3" height="3" fill="#26a69a"/><rect x="334" y="742" width="1" height="27" fill="#ef5350"/><rect x="333" y="745" width="3" height="17" fill="#ef5350"/><rect x="338" y="738" width="1" height="26" fill="#26a69a"/><rect x="337" y="741" width="3" height="23" fill="#26a69a"/><rect x="342" y="742" width="1" height="22" fill="#ef5350"/><rect x="341" y="742" width="3" height="22" fill="#ef5350"/><rect x="346" y="761" width="1" height="14" fill="#ef5350"/><rect x="345" y="766" width="3" height="6" fill="#ef5350"/><rect x="350" y="724" width="1" height="46" fill="#26a69a"/><rect x="349" y="746" width="3" height="24" fill="#26a69a"/><rect x="354" y="746" width="1" height="11" fill="#ef5350"/><rect x="353" y="747" width="3" height="6" fill="#ef5350"/><rect x="358" y="750" width="1" height="12" fill="#ef5350"/><rect x="357" y="754" width="3" height="4" fill="#ef5350"/><rect x="362" y="701" width="1" height="58" fill="#26a69a"/><rect x="361" y="709" width="3" height="47" fill="#26a69a"/><rect x="366" y="703" width="1" height="17" fill="#26a69a"/><rect x="365" y="703" width="3" height="9" fill="#26a69a"/><rect x="370" y="686" width="1" height="40" fill="#ef5350"/><rect x="369" y="701" width="3" height="25" fill="#ef5350"/><rect x="374" y="717" width="1" height="19" fill="#26a69a"/><rect x="373" y="717" width="3" height="8" fill="#26a69a"/><rect x="378" y="703" width="1" height="20" fill="#26a69a"/><rect x="377" y="705" width="3" height="15" fill="#26a69a"/><rect x="382" y="701" width="1" height="16" fill="#26a69a"/><rect x="381" y="703" width="3" height="4" fill="#26a69a"/><rect x="386" y="681" width="1" height="23" fill="#ef5350"/><rect x="385" y="701" width="3" height="3" fill="#ef5350"/><rect x="390" y="706" width="1" height="85" fill="#ef5350"/><rect x="389" y="706" width="3" height="56" fill="#ef5350"/><rect x="394" y="724" width="1" height="37" fill="#26a69a"/><rect x="393" y="730" width="3" height="31" fill="#26a69a"/><rect x="398" y="717" width="1" height="20" fill="#26a69a"/><rect x="397" y="720" width="3" height="9" fill="#26a69a"/><rect x="402" y="698" width="1" height="41" fill="#26a69a"/><rect x="401" y="706" width="3" height="17" fill="#26a69a"/><rect x="406" y="635" width="1" height="71" fill="#26a69a"/><rect x="405" y="640" width="3" height="66" fill="#26a69a"/><rect x="410" y="605" width="1" height="52" fill="#26a69a"/><rect x="409" y="614" width="3" height="25" fill="#26a69a"/><rect x="414" y="596" width="1" height="32" fill="#ef5350"/><rect x="413" y="613" width="3" height="10" fill="#ef5350"/><rect x="418" y="573" width="1" height="52" fill="#26a69a"/><rect x="417" y="583" width="3" height="42" fill="#26a69a"/><rect x="422" y="553" width="1" height="31" fill="#26a69a"/><rect x="421" y="553" width="3" height="29" fill="#26a69a"/><rect x="426" y="547" width="1" height="39" fill="#26a69a"/><rect x="425" y="550" width="3" height="5" fill="#26a69a"/><rect x="430" y="550" width="1" height="37" fill="#ef5350"/><rect x="429" y="550" width="3" height="24" fill="#ef5350"/><rect x="434" y="540" width="1" height="41" fill="#26a69a"/><rect x="433" y="543" width="3" height="33" fill="#26a69a"/><rect x="438" y="515" width="1" height="39" fill="#ef5350"/><rect x="437" y="545" width="3" height="4" fill="#ef5350"/><rect x="442" y="531" width="1" height="45" fill="#26a69a"/><rect x="441" y="534" width="3" height="14" fill="#26a69a"/><rect x="446" y="537" width="1" height="25" fill="#ef5350"/><rect x="445" y="537" width="3" height="15" fill="#ef5350"/><rect x="450" y="534" width="1" height="25" fill="#26a69a"/><rect x="449" y="551" width="3" height="3" fill="#26a69a"/><rect x="454" y="535" width="1" height="47" fill="#26a69a"/><rect x="453" y="535" width="3" height="16" fill="#26a69a"/><rect x="458" y="534" width="1" height="69" fill="#ef5350"/><rect x="457" y="535" width="3" height="68" fill="#ef5350"/><rect x="462" y="589" width="1" height="36" fill="#26a69a"/><rect x="461" y="597" width="3" height="9" fill="#26a69a"/><rect x="466" y="597" width="1" height="25" fill="#26a69a"/><rect x="465" y="597" width="3" height="2" fill="#26a69a"/><rect x="470" y="577" width="1" height="21" fill="#ef5350"/><rect x="469" y="596" width="3" height="2" fill="#ef5350"/><rect x="474" y="567" width="1" height="33" fill="#ef5350"/><rect x="473" y="596" width="3" height="4" fill="#ef5350"/><rect x="478" y="583" width="1" height="21" fill="#ef5350"/><rect x="477" y="597" width="3" height="7" fill="#ef5350"/><rect x="482" y="580" width="1" height="42" fill="#ef5350"/><rect x="481" y="605" width="3" height="6" fill="#ef5350"/><rect x="486" y="608" width="1" height="36" fill="#ef5350"/><rect x="485" y="608" width="3" height="9" fill="#ef5350"/><rect x="490" y="610" width="1" height="29" fill="#66bb6a"/><rect x="489" y="614" width="3" height="1" fill="#66bb6a"/><rect x="494" y="591" width="1" height="29" fill="#26a69a"/><rect x="493" y="613" width="3" height="4" fill="#26a69a"/><rect x="498" y="591" width="1" height="24" fill="#26a69a"/><rect x="497" y="600" width="3" height="15" fill="#26a69a"/><rect x="502" y="543" width="1" height="59" fill="#26a69a"/><rect x="501" y="548" width="3" height="54" fill="#26a69a"/><rect x="506" y="545" width="1" height="58" fill="#ef5350"/><rect x="505" y="549" width="3" height="54" fill="#ef5350"/><rect x="510" y="594" width="1" height="36" fill="#ef5350"/><rect x="509" y="603" width="3" height="23" fill="#ef5350"/><rect x="514" y="584" width="1" height="43" fill="#26a69a"/><rect x="513" y="596" width="3" height="31" fill="#26a69a"/><rect x="518" y="581" width="1" height="36" fill="#26a69a"/><rect x="517" y="584" width="3" height="14" fill="#26a69a"/><rect x="522" y="572" width="1" height="37" fill="#26a69a"/><rect x="521" y="580" width="3" height="7" fill="#26a69a"/><rect x="526" y="554" width="1" height="25" fill="#26a69a"/><rect x="525" y="577" width="3" height="2" fill="#26a69a"/><rect x="530" y="532" width="1" height="49" fill="#26a69a"/><rect x="529" y="558" width="3" height="21" fill="#26a69a"/><rect x="534" y="551" width="1" height="39" fill="#ef5350"/><rect x="533" y="561" width="3" height="6" fill="#ef5350"/><rect x="538" y="562" width="1" height="18" fill="#ef5350"/><rect x="537" y="564" width="3" height="6" fill="#ef5350"/><rect x="542" y="566" width="1" height="31" fill="#ef5350"/><rect x="541" y="570" width="3" height="11" fill="#ef5350"/><rect x="546" y="559" width="1" height="45" fill="#ef5350"/><rect x="545" y="577" width="3" height="27" fill="#ef5350"/><rect x="550" y="592" width="1" height="33" fill="#ef5350"/><rect x="549" y="602" width="3" height="23" fill="#ef5350"/><rect x="554" y="600" width="1" height="28" fill="#66bb6a"/><rect x="553" y="622" width="3" height="1" fill="#66bb6a"/><rect x="558" y="614" width="1" height="25" fill="#ef5350"/><rect x="557" y="624" width="3" height="15" fill="#ef5350"/><rect x="562" y="632" width="1" height="29" fill="#ef5350"/><rect x="561" y="637" width="3" height="10" fill="#ef5350"/><rect x="566" y="641" width="1" height="16" fill="#26a69a"/><rect x="565" y="646" width="3" height="3" fill="#26a69a"/><rect x="570" y="632" width="1" height="17" fill="#ef5350"/><rect x="569" y="645" width="3" height="2" fill="#ef5350"/><rect x="574" y="633" width="1" height="11" fill="#26a69a"/><rect x="573" y="640" width="3" height="4" fill="#26a69a"/><rect x="578" y="640" width="1" height="32" fill="#ef5350"/><rect x="577" y="641" width="3" height="12" fill="#ef5350"/><rect x="582" y="654" width="1" height="33" fill="#ef5350"/><rect x="581" y="654" width="3" height="14" fill="#ef5350"/><rect x="586" y="630" width="1" height="39" fill="#26a69a"/><rect x="585" y="646" width="3" height="20" fill="#26a69a"/><rect x="590" y="632" width="1" height="23" fill="#ef5350"/><rect x="589" y="645" width="3" height="5" fill="#ef5350"/><rect x="594" y="643" width="1" height="26" fill="#26a69a"/><rect x="593" y="648" width="3" height="4" fill="#26a69a"/><rect x="598" y="621" width="1" height="36" fill="#26a69a"/><rect x="597" y="630" width="3" height="20" fill="#26a69a"/><rect x="602" y="630" width="1" height="9" fill="#ef5350"/><rect x="601" y="632" width="3" height="7" fill="#ef5350"/><rect x="606" y="611" width="1" height="44" fill="#26a69a"/><rect x="605" y="638" width="3" height="3" fill="#26a69a"/><rect x="610" y="619" width="1" height="33" fill="#ef5350"/><rect x="609" y="641" width="3" height="5" fill="#ef5350"/><rect x="614" y="645" width="1" height="18" fill="#ef5350"/><rect x="613" y="646" width="3" height="17" fill="#ef5350"/><rect x="618" y="646" width="1" height="23" fill="#ef5350"/><rect x="617" y="660" width="3" height="9" fill="#ef5350"/><rect x="622" y="668" width="1" height="25" fill="#ef5350"/><rect x="621" y="669" width="3" height="11" fill="#ef5350"/><rect x="626" y="668" width="1" height="14" fill="#26a69a"/><rect x="625" y="670" width="3" height="7" fill="#26a69a"/><rect x="630" y="668" width="1" height="25" fill="#ef5350"/><rect x="629" y="668" width="3" height="25" fill="#ef5350"/><rect x="634" y="659" width="1" height="32" fill="#26a69a"/><rect x="633" y="665" width="3" height="26" fill="#26a69a"/><rect x="638" y="659" width="1" height="21" fill="#ef5350"/><rect x="637" y="663" width="3" height="12" fill="#ef5350"/><rect x="642" y="671" width="1" height="23" fill="#66bb6a"/><rect x="641" y="676" width="3" height="1" fill="#66bb6a"/><rect x="646" y="660" width="1" height="17" fill="#ef5350"/><rect x="645" y="675" width="3" height="2" fill="#ef5350"/><rect x="650" y="659" width="1" height="18" fill="#26a69a"/><rect x="649" y="661" width="3" height="15" fill="#26a69a"/><rect x="654" y="633" width="1" height="33" fill="#ef5350"/><rect x="653" y="659" width="3" height="7" fill="#ef5350"/><rect x="658" y="637" width="1" height="27" fill="#26a69a"/><rect x="657" y="638" width="3" height="26" fill="#26a69a"/><rect x="662" y="630" width="1" height="12" fill="#ef5350"/><rect x="661" y="637" width="3" height="2" fill="#ef5350"/><rect x="666" y="640" width="1" height="34" fill="#ef5350"/><rect x="665" y="640" width="3" height="31" fill="#ef5350"/><rect x="670" y="671" width="1" height="16" fill="#ef5350"/><rect x="669" y="671" width="3" height="16" fill="#ef5350"/><rect x="674" y="652" width="1" height="33" fill="#26a69a"/><rect x="673" y="656" width="3" height="29" fill="#26a69a"/><rect x="678" y="651" width="1" height="37" fill="#ef5350"/><rect x="677" y="654" width="3" height="31" fill="#ef5350"/><rect x="682" y="670" width="1" height="18" fill="#26a69a"/><rect x="681" y="676" width="3" height="7" fill="#26a69a"/><rect x="686" y="659" width="1" height="17" fill="#26a69a"/><rect x="685" y="673" width="3" height="3" fill="#26a69a"/><rect x="690" y="668" width="1" height="30" fill="#ef5350"/><rect x="689" y="671" width="3" height="23" fill="#ef5350"/><rect x="694" y="693" width="1" height="25" fill="#ef5350"/><rect x="693" y="695" width="3" height="17" fill="#ef5350"/><rect x="698" y="706" width="1" height="12" fill="#66bb6a"/><rect x="697" y="709" width="3" height="1" fill="#66bb6a"/><rect x="702" y="709" width="1" height="57" fill="#ef5350"/><rect x="701" y="711" width="3" height="48" fill="#ef5350"/><rect x="706" y="733" width="1" height="45" fill="#ef5350"/><rect x="705" y="757" width="3" height="15" fill="#ef5350"/><rect x="710" y="758" width="1" height="28" fill="#ef5350"/><rect x="709" y="772" width="3" height="11" fill="#ef5350"/><rect x="714" y="772" width="1" height="30" fill="#ef5350"/><rect x="713" y="780" width="3" height="12" fill="#ef5350"/><rect x="718" y="779" width="1" height="15" fill="#26a69a"/><rect x="717" y="779" width="3" height="15" fill="#26a69a"/><rect x="722" y="771" width="1" height="25" fill="#26a69a"/><rect x="721" y="772" width="3" height="9" fill="#26a69a"/><rect x="726" y="772" width="1" height="47" fill="#ef5350"/><rect x="725" y="774" width="3" height="45" fill="#ef5350"/>
<rect x="898" y="791" width="39" height="11" fill="#ef5350"/>
<rect x="898" y="813" width="39" height="11" fill="#26a69a"/>
</g>
<text transform="translate(901.5 516) scale(0.847 1)" font-size="10.3" fill="#000" stroke="#000" stroke-width="0.220">1.15230</text>
<text transform="translate(901.5 547) scale(0.847 1)" font-size="10.3" fill="#000" stroke="#000" stroke-width="0.220">1.15210</text>
<text transform="translate(901.5 579) scale(0.847 1)" font-size="10.3" fill="#000" stroke="#000" stroke-width="0.220">1.15190</text>
<text transform="translate(901.5 611) scale(0.847 1)" font-size="10.3" fill="#000" stroke="#000" stroke-width="0.220">1.15170</text>
<text transform="translate(901.5 642) scale(0.847 1)" font-size="10.3" fill="#000" stroke="#000" stroke-width="0.220">1.15150</text>
<text transform="translate(901.5 674) scale(0.847 1)" font-size="10.3" fill="#000" stroke="#000" stroke-width="0.220">1.15130</text>
<text transform="translate(901.5 705) scale(0.847 1)" font-size="10.3" fill="#000" stroke="#000" stroke-width="0.220">1.15110</text>
<text transform="translate(901.5 737) scale(0.847 1)" font-size="10.3" fill="#000" stroke="#000" stroke-width="0.220">1.15090</text>
<text transform="translate(901.5 769) scale(0.847 1)" font-size="10.3" fill="#000" stroke="#000" stroke-width="0.220">1.15070</text>
<text transform="translate(901.5 832) scale(0.847 1)" font-size="10.3" fill="#000" stroke="#000" stroke-width="0.220">1.15030</text>
<text transform="translate(901.5 863) scale(0.847 1)" font-size="10.3" fill="#000" stroke="#000" stroke-width="0.220">1.15010</text>
<text transform="translate(901.5 800) scale(0.847 1)" font-size="10.3" fill="#fff" stroke="#fff" stroke-width="0.220">1.15050</text>
<text transform="translate(901.5 822) scale(0.847 1)" font-size="10.3" fill="#fff" stroke="#fff" stroke-width="0.220">1.15036</text>
<g transform="translate(11,502)">
<rect x="0.500" y="0.500" width="14" height="10" rx="1.500" fill="#fff"/>
<rect x="2" y="3" width="5" height="5" fill="#fde6df"/><rect x="8" y="3" width="5" height="5" fill="#d3ebfc"/>
<path d="M7 0.500H1.500A1 1 0 0 0 0.500 1.500V9.500A1 1 0 0 0 1.500 10.500H7" fill="none" stroke="#d9362d"/>
<path d="M7 0.500H13.500A1 1 0 0 1 14.500 1.500V9.500A1 1 0 0 1 13.500 10.500H7" fill="none" stroke="#0c5eae"/>
<path d="M2 2.500h5M2 5.500h5M2 8.500h5" stroke="#d9362d" stroke-width="1" shape-rendering="crispEdges"/>
<path d="M8 2.500h5M8 5.500h5M8 8.500h5" stroke="#0c5eae" stroke-width="1" shape-rendering="crispEdges"/>
<path transform="translate(21,0)" d="M0.500 9.900V1.100A0.600 0.600 0 0 1 1.100 0.500H2.900A0.600 0.600 0 0 1 3.500 1.100V3.900A0.600 0.600 0 0 0 4.100 4.500H5.900A0.600 0.600 0 0 1 6.500 5.100V9.900A0.600 0.600 0 0 1 5.900 10.500H1.100A0.600 0.600 0 0 1 0.500 9.900Z" fill="#fee2db" stroke="#d9362d"/>
<path transform="translate(29,0)" d="M6.500 9.900V1.100A0.600 0.600 0 0 0 5.900 0.500H4.100A0.600 0.600 0 0 0 3.500 1.100V3.900A0.600 0.600 0 0 1 2.900 4.500H1.100A0.600 0.600 0 0 0 0.500 5.100V9.900A0.600 0.600 0 0 0 1.100 10.500H5.900A0.600 0.600 0 0 0 6.500 9.900Z" fill="#c6e6fd" stroke="#0c5eae"/>
<rect x="26.500" y="0.500" width="4" height="2" rx="0.400" fill="#fff" stroke="#a0a0a0" stroke-width="1"/>
</g>
<text transform="translate(52.4 510.8) scale(0.925 1)" font-size="10.3" fill="#000" xml:space="preserve" stroke="#000" stroke-width="0.220">EURUSDrfd, M1:  Euro vs US Dollar</text>
<text transform="translate(11.5 526) scale(0.81 1)" font-size="10.3" fill="#000" stroke="#000" stroke-width="0.220">SL</text>
<text transform="translate(11.5 657) scale(0.884 1)" font-size="10.3" fill="#000" stroke="#000" stroke-width="0.220">SELL 0.3 at 1.15137</text>
<g shape-rendering="crispEdges">
<rect x="954" y="496" width="921" height="1" fill="#000"/>
<rect x="1874" y="496" width="1" height="392" fill="#000"/>
<rect x="1875" y="504" width="4" height="1" fill="#000"/>
<rect x="1875" y="536" width="4" height="1" fill="#000"/>
<rect x="1875" y="568" width="4" height="1" fill="#000"/>
<rect x="1875" y="601" width="4" height="1" fill="#000"/>
<rect x="1875" y="633" width="4" height="1" fill="#000"/>
<rect x="1875" y="665" width="4" height="1" fill="#000"/>
<rect x="1875" y="697" width="4" height="1" fill="#000"/>
<rect x="1875" y="730" width="4" height="1" fill="#000"/>
<rect x="1875" y="762" width="4" height="1" fill="#000"/>
<rect x="1875" y="794" width="4" height="1" fill="#000"/>
<rect x="1875" y="826" width="4" height="1" fill="#000"/>
<rect x="1875" y="859" width="4" height="1" fill="#000"/>
<line x1="954" y1="580.5" x2="1874" y2="580.5" stroke="#ef5350" stroke-width="1" stroke-dasharray="9 6 3 6" stroke-dashoffset="5"/>
<line x1="954" y1="586.5" x2="1874" y2="586.5" stroke="#26a69a" stroke-width="1" stroke-dasharray="3 3" stroke-dashoffset="5"/>
<line x1="954" y1="628.5" x2="1874" y2="628.5" stroke="#ef5350" stroke-width="1" stroke-dasharray="9 6 3 6" stroke-dashoffset="5"/>
<rect x="954" y="592" width="920" height="1" fill="#ef5350"/>
<rect x="954" y="593" width="920" height="1" fill="#26a69a"/>
<rect x="954" y="698" width="1" height="43" fill="#ef5350"/><rect x="965" y="654" width="1" height="89" fill="#26a69a"/><rect x="960" y="664" width="11" height="78" fill="#26a69a"/><rect x="981" y="656" width="1" height="50" fill="#ef5350"/><rect x="976" y="662" width="11" height="24" fill="#ef5350"/><rect x="997" y="664" width="1" height="26" fill="#26a69a"/><rect x="992" y="667" width="11" height="20" fill="#26a69a"/><rect x="1013" y="547" width="1" height="94" fill="#26a69a"/><rect x="1008" y="587" width="11" height="54" fill="#26a69a"/><rect x="1029" y="564" width="1" height="87" fill="#ef5350"/><rect x="1024" y="589" width="11" height="61" fill="#ef5350"/><rect x="1045" y="636" width="1" height="88" fill="#ef5350"/><rect x="1040" y="646" width="11" height="75" fill="#ef5350"/><rect x="1061" y="663" width="1" height="57" fill="#26a69a"/><rect x="1056" y="666" width="11" height="53" fill="#26a69a"/><rect x="1077" y="668" width="1" height="51" fill="#ef5350"/><rect x="1072" y="673" width="11" height="17" fill="#ef5350"/><rect x="1093" y="645" width="1" height="65" fill="#26a69a"/><rect x="1088" y="647" width="11" height="49" fill="#26a69a"/><rect x="1109" y="648" width="1" height="35" fill="#ef5350"/><rect x="1104" y="649" width="11" height="24" fill="#ef5350"/><rect x="1125" y="662" width="1" height="56" fill="#ef5350"/><rect x="1120" y="673" width="11" height="41" fill="#ef5350"/><rect x="1141" y="701" width="1" height="51" fill="#ef5350"/><rect x="1136" y="710" width="11" height="24" fill="#ef5350"/><rect x="1157" y="675" width="1" height="72" fill="#26a69a"/><rect x="1152" y="729" width="11" height="8" fill="#26a69a"/><rect x="1173" y="685" width="1" height="46" fill="#26a69a"/><rect x="1168" y="720" width="11" height="6" fill="#26a69a"/><rect x="1189" y="674" width="1" height="69" fill="#26a69a"/><rect x="1184" y="680" width="11" height="40" fill="#26a69a"/><rect x="1205" y="676" width="1" height="59" fill="#ef5350"/><rect x="1200" y="684" width="11" height="44" fill="#ef5350"/><rect x="1221" y="704" width="1" height="84" fill="#ef5350"/><rect x="1216" y="725" width="11" height="52" fill="#ef5350"/><rect x="1237" y="733" width="1" height="65" fill="#26a69a"/><rect x="1232" y="763" width="11" height="16" fill="#26a69a"/><rect x="1253" y="767" width="1" height="118" fill="#ef5350"/><rect x="1248" y="778" width="11" height="93" fill="#ef5350"/><rect x="1269" y="798" width="1" height="74" fill="#26a69a"/><rect x="1264" y="803" width="11" height="67" fill="#26a69a"/><rect x="1285" y="751" width="1" height="69" fill="#ef5350"/><rect x="1280" y="805" width="11" height="9" fill="#ef5350"/><rect x="1301" y="776" width="1" height="40" fill="#26a69a"/><rect x="1296" y="805" width="11" height="9" fill="#26a69a"/><rect x="1317" y="782" width="1" height="60" fill="#ef5350"/><rect x="1312" y="804" width="11" height="18" fill="#ef5350"/><rect x="1333" y="736" width="1" height="78" fill="#26a69a"/><rect x="1328" y="766" width="11" height="37" fill="#26a69a"/><rect x="1349" y="739" width="1" height="45" fill="#26a69a"/><rect x="1344" y="739" width="11" height="28" fill="#26a69a"/><rect x="1365" y="687" width="1" height="56" fill="#26a69a"/><rect x="1360" y="708" width="11" height="34" fill="#26a69a"/><rect x="1381" y="699" width="1" height="60" fill="#ef5350"/><rect x="1376" y="709" width="11" height="34" fill="#ef5350"/><rect x="1397" y="678" width="1" height="66" fill="#26a69a"/><rect x="1392" y="686" width="11" height="57" fill="#26a69a"/><rect x="1413" y="649" width="1" height="35" fill="#26a69a"/><rect x="1408" y="671" width="11" height="9" fill="#26a69a"/><rect x="1429" y="657" width="1" height="57" fill="#ef5350"/><rect x="1424" y="674" width="11" height="36" fill="#ef5350"/><rect x="1445" y="699" width="1" height="41" fill="#ef5350"/><rect x="1440" y="710" width="11" height="24" fill="#ef5350"/><rect x="1461" y="672" width="1" height="117" fill="#26a69a"/><rect x="1456" y="683" width="11" height="50" fill="#26a69a"/><rect x="1477" y="669" width="1" height="52" fill="#ef5350"/><rect x="1472" y="682" width="11" height="16" fill="#ef5350"/><rect x="1493" y="628" width="1" height="68" fill="#26a69a"/><rect x="1488" y="634" width="11" height="59" fill="#26a69a"/><rect x="1509" y="626" width="1" height="61" fill="#ef5350"/><rect x="1504" y="635" width="11" height="47" fill="#ef5350"/><rect x="1525" y="639" width="1" height="52" fill="#26a69a"/><rect x="1520" y="649" width="11" height="33" fill="#26a69a"/><rect x="1541" y="599" width="1" height="61" fill="#26a69a"/><rect x="1536" y="633" width="11" height="20" fill="#26a69a"/><rect x="1557" y="624" width="1" height="58" fill="#ef5350"/><rect x="1552" y="633" width="11" height="35" fill="#ef5350"/><rect x="1573" y="636" width="1" height="36" fill="#26a69a"/><rect x="1568" y="650" width="11" height="9" fill="#26a69a"/><rect x="1589" y="630" width="1" height="51" fill="#26a69a"/><rect x="1584" y="645" width="11" height="6" fill="#26a69a"/><rect x="1605" y="596" width="1" height="63" fill="#26a69a"/><rect x="1600" y="604" width="11" height="43" fill="#26a69a"/><rect x="1621" y="508" width="1" height="100" fill="#26a69a"/><rect x="1616" y="538" width="11" height="68" fill="#26a69a"/><rect x="1637" y="520" width="1" height="84" fill="#ef5350"/><rect x="1632" y="538" width="11" height="27" fill="#ef5350"/><rect x="1653" y="519" width="1" height="61" fill="#26a69a"/><rect x="1648" y="555" width="11" height="14" fill="#26a69a"/><rect x="1669" y="543" width="1" height="70" fill="#ef5350"/><rect x="1664" y="554" width="11" height="53" fill="#ef5350"/><rect x="1685" y="580" width="1" height="34" fill="#26a69a"/><rect x="1680" y="593" width="11" height="13" fill="#26a69a"/>
</g>
<text transform="translate(1880.3 508) scale(0.832 1)" font-size="10.3" fill="#000" stroke="#000" stroke-width="0.220">1.16370</text>
<text transform="translate(1880.3 540) scale(0.832 1)" font-size="10.3" fill="#000" stroke="#000" stroke-width="0.220">1.15885</text>
<text transform="translate(1880.3 572) scale(0.832 1)" font-size="10.3" fill="#000" stroke="#000" stroke-width="0.220">1.15400</text>
<text transform="translate(1880.3 605) scale(0.832 1)" font-size="10.3" fill="#000" stroke="#000" stroke-width="0.220">1.14915</text>
<text transform="translate(1880.3 637) scale(0.832 1)" font-size="10.3" fill="#000" stroke="#000" stroke-width="0.220">1.14430</text>
<text transform="translate(1880.3 669) scale(0.832 1)" font-size="10.3" fill="#000" stroke="#000" stroke-width="0.220">1.13945</text>
<text transform="translate(1880.3 701) scale(0.832 1)" font-size="10.3" fill="#000" stroke="#000" stroke-width="0.220">1.13460</text>
<text transform="translate(1880.3 734) scale(0.832 1)" font-size="10.3" fill="#000" stroke="#000" stroke-width="0.220">1.12975</text>
<text transform="translate(1880.3 766) scale(0.832 1)" font-size="10.3" fill="#000" stroke="#000" stroke-width="0.220">1.12490</text>
<text transform="translate(1880.3 798) scale(0.832 1)" font-size="10.3" fill="#000" stroke="#000" stroke-width="0.220">1.12005</text>
<text transform="translate(1880.3 830) scale(0.832 1)" font-size="10.3" fill="#000" stroke="#000" stroke-width="0.220">1.11520</text>
<text transform="translate(1880.3 863) scale(0.832 1)" font-size="10.3" fill="#000" stroke="#000" stroke-width="0.220">1.11035</text>
<g shape-rendering="crispEdges">
<rect x="1877" y="587" width="35" height="1" fill="#ef5350"/>
<rect x="1877" y="588" width="35" height="11" fill="#26a69a"/>
</g>
<text transform="translate(1880.3 597) scale(0.832 1)" font-size="10.3" fill="#fff" stroke="#fff" stroke-width="0.220">1.15036</text>
<g transform="translate(954,502)">
<rect x="0.500" y="0.500" width="14" height="10" rx="1.500" fill="#fff"/>
<rect x="2" y="3" width="5" height="5" fill="#fde6df"/><rect x="8" y="3" width="5" height="5" fill="#d3ebfc"/>
<path d="M7 0.500H1.500A1 1 0 0 0 0.500 1.500V9.500A1 1 0 0 0 1.500 10.500H7" fill="none" stroke="#d9362d"/>
<path d="M7 0.500H13.500A1 1 0 0 1 14.500 1.500V9.500A1 1 0 0 1 13.500 10.500H7" fill="none" stroke="#0c5eae"/>
<path d="M2 2.500h5M2 5.500h5M2 8.500h5" stroke="#d9362d" stroke-width="1" shape-rendering="crispEdges"/>
<path d="M8 2.500h5M8 5.500h5M8 8.500h5" stroke="#0c5eae" stroke-width="1" shape-rendering="crispEdges"/>
<path transform="translate(21,0)" d="M0.500 9.900V1.100A0.600 0.600 0 0 1 1.100 0.500H2.900A0.600 0.600 0 0 1 3.500 1.100V3.900A0.600 0.600 0 0 0 4.100 4.500H5.900A0.600 0.600 0 0 1 6.500 5.100V9.900A0.600 0.600 0 0 1 5.900 10.500H1.100A0.600 0.600 0 0 1 0.500 9.900Z" fill="#fee2db" stroke="#d9362d"/>
<path transform="translate(29,0)" d="M6.500 9.900V1.100A0.600 0.600 0 0 0 5.900 0.500H4.100A0.600 0.600 0 0 0 3.500 1.100V3.900A0.600 0.600 0 0 1 2.900 4.500H1.100A0.600 0.600 0 0 0 0.500 5.100V9.900A0.600 0.600 0 0 0 1.100 10.500H5.900A0.600 0.600 0 0 0 6.500 9.900Z" fill="#c6e6fd" stroke="#0c5eae"/>
<rect x="26.500" y="0.500" width="4" height="2" rx="0.400" fill="#fff" stroke="#a0a0a0" stroke-width="1"/>
</g>
<text transform="translate(995.6 510.8) scale(0.925 1)" font-size="10.3" fill="#000" xml:space="preserve" stroke="#000" stroke-width="0.220">EURUSDrfd, Daily:  Euro vs US Dollar</text>
<text transform="translate(955 577) scale(0.81 1)" font-size="10.3" fill="#000" stroke="#000" stroke-width="0.220">SL</text>
<text transform="translate(955 584) scale(0.884 1)" font-size="10.3" fill="#000" stroke="#000" stroke-width="0.220">SELL 0.3 at 1.15137</text>
<text transform="translate(955 626) scale(0.838 1)" font-size="10.3" fill="#000" stroke="#000" stroke-width="0.220">TP</text>
<text x="1031" y="798" font-size="19.25" fill="#778899">49.2 (90.3 D1)</text>
<text x="980.5" y="858" font-size="13" fill="#8392a9">100.0% of ATR (14) : 903 Points</text>
<text x="12.5" y="900.7" font-size="11.7" fill="#000" textLength="77.2" lengthAdjust="spacingAndGlyphs">EURUSDrfd,M5</text>
<text x="113.3" y="900.7" font-size="11.7" fill="#757575" textLength="77.2" lengthAdjust="spacingAndGlyphs">EURUSDrfd,M1</text>
<text x="213" y="900.7" font-size="11.7" fill="#757575" textLength="86.5" lengthAdjust="spacingAndGlyphs">EURUSDrfd,Daily</text>
<path d="M1880 897.800l3-2.800v5.600zM1904 897.800l-3-2.800v5.600z" fill="#b4b4b4"/>
<path d="M1.500 920.500l7 7M8.500 920.500l-7 7" stroke="#000" stroke-width="1.300"/>
<circle cx="27.500" cy="925.500" r="4.800" fill="none" stroke="#000" stroke-width="1"/><path d="M24.800 925.500h5.400M27.500 922.800v5.400" stroke="#000" stroke-width="1"/>
<text x="35.8" y="929.8" font-size="12" fill="#000" textLength="112.1" lengthAdjust="spacingAndGlyphs">Баланс: 3 479.59 USD</text>
<text x="154.2" y="929.8" font-size="12" fill="#000" textLength="84.7" lengthAdjust="spacingAndGlyphs">Прибыль: 90.59</text>
<text x="245.2" y="929.8" font-size="12" fill="#000" textLength="97.4" lengthAdjust="spacingAndGlyphs">Средства: 3 570.18</text>
<text x="349.4" y="929.8" font-size="12" fill="#000" textLength="86.2" lengthAdjust="spacingAndGlyphs">Маржа: 2 505.13</text>
<text x="442.4" y="929.8" font-size="12" fill="#000" textLength="147.0" lengthAdjust="spacingAndGlyphs">Свободная маржа: 1 065.05</text>
<text x="596.2" y="929.8" font-size="12" fill="#000" textLength="139.1" lengthAdjust="spacingAndGlyphs">Уровень маржи: 142.51 %</text>
<g>
<rect x="32.300" y="30.300" width="685" height="27.300" rx="13.650" fill="#262626" stroke="#555" stroke-width="0.400"/>
<rect x="74.2" y="30.800" width="1.600" height="26.400" fill="#727272"/>
<rect x="177.05" y="30.800" width="1.600" height="26.400" fill="#727272"/>
<rect x="316.45" y="30.800" width="1.600" height="26.400" fill="#727272"/>
<rect x="381.45" y="30.800" width="1.600" height="26.400" fill="#727272"/>
<rect x="456.8" y="30.800" width="1.600" height="26.400" fill="#727272"/>
<rect x="527.7" y="30.800" width="1.600" height="26.400" fill="#727272"/>
<rect x="576.15" y="30.800" width="1.600" height="26.400" fill="#727272"/>
<rect x="673.8" y="30.800" width="1.600" height="26.400" fill="#727272"/>
<rect x="699.85" y="30.800" width="1.600" height="26.400" fill="#727272"/>
<path d="M40 39.200l8 7.800M48 39.200l-8 7.800" stroke="#fff" stroke-width="1.400"/>
<circle cx="60.600" cy="44.100" r="5.400" fill="#0f2c4c"/>
<rect x="58.400" y="41.500" width="4.700" height="5.300" fill="#7d8fb0"/>
<path d="M58.400 43.600h4.700M60.750 43.600v3.200" stroke="#5e7193" stroke-width="0.500"/>
<path d="M55.600 35l3.500 3.800h-1.800v6.200h-3.400v-6.200h-1.800z" fill="#2bb5a0"/>
<path d="M66.400 53.100l-3.500-3h1.800v-7.100h3.500v7.100h1.700z" fill="#f0384f"/>
<text x="80" y="47.9" font-size="10.3" fill="#fff" font-weight="bold" textLength="30.6" lengthAdjust="spacingAndGlyphs">Risk %</text>
<rect x="112" y="35.300" width="50" height="17.600" rx="2.500" fill="#6f6e6e"/>
<text x="116.2" y="47.9" font-size="10.6" fill="#e9e9f2" textLength="20.6" lengthAdjust="spacingAndGlyphs">0.98</text>
<path d="M168.8 39.300l3.200 4.600h-6.400zM168.8 50.800l3.200-4.600h-6.400z" fill="none" stroke="#5a5a5a" stroke-width="0.900"/>
<text x="181" y="47.9" font-size="10.3" fill="#fff" font-weight="bold" textLength="26" lengthAdjust="spacingAndGlyphs">Profit</text>
<rect x="212" y="35.300" width="100" height="17.600" rx="2.500" fill="#6f6e6e"/>
<text x="216" y="47.9" font-size="10.6" fill="#e9e9f2" textLength="50.5" lengthAdjust="spacingAndGlyphs">USD:34.00</text>
<text x="322.5" y="47.9" font-size="10.3" fill="#fff" font-weight="bold" textLength="14.5" lengthAdjust="spacingAndGlyphs">R:R</text>
<rect x="342" y="35.300" width="27" height="17.600" rx="2.500" fill="#6f6e6e"/>
<text x="346.5" y="47.9" font-size="10.6" fill="#e9e9f2" textLength="14" lengthAdjust="spacingAndGlyphs">0.0</text>
<path d="M376 39.300l3.200 4.600h-6.400zM376 50.800l3.200-4.600h-6.400z" fill="none" stroke="#5a5a5a" stroke-width="0.900"/>
<text x="387.5" y="47.9" font-size="10.3" fill="#fff" font-weight="bold" textLength="14.4" lengthAdjust="spacingAndGlyphs">Lot</text>
<rect x="407" y="35.300" width="38" height="17.600" rx="2.500" fill="#6f6e6e"/>
<text x="411.5" y="47.9" font-size="10.6" fill="#e9e9f2" textLength="20" lengthAdjust="spacingAndGlyphs">0.17</text>
<path d="M451.8 39.300l3.200 4.600h-6.400zM451.8 50.800l3.200-4.600h-6.400z" fill="none" stroke="#5a5a5a" stroke-width="0.900"/>
<text x="462.8" y="47.9" font-size="10.3" fill="#fff" font-weight="bold" textLength="10" lengthAdjust="spacingAndGlyphs">SL</text>
<rect x="477" y="35.300" width="38" height="17.600" rx="2.500" fill="#6f6e6e"/>
<text x="481.1" y="47.9" font-size="10.6" fill="#e9e9f2" textLength="20.4" lengthAdjust="spacingAndGlyphs">20.0</text>
<path d="M522 39.300l3.200 4.600h-6.400zM522 50.800l3.200-4.600h-6.400z" fill="none" stroke="#5a5a5a" stroke-width="0.900"/>
<text x="534.3" y="47.9" font-size="10.3" fill="#fff" font-weight="bold" textLength="11" lengthAdjust="spacingAndGlyphs">TP</text>
<rect x="547" y="35.300" width="24" height="17.600" rx="2.500" fill="#6f6e6e"/>
<text x="551.8" y="47.9" font-size="10.6" fill="#e9e9f2">1</text>
<path d="M560.500 42.300h5.500l-2.750 3.700z" fill="#000"/>
<circle cx="592" cy="44" r="9.700" fill="#5dd38b" stroke="#7a7a7a" stroke-width="0.500"/>
<path d="M587.800 46.300l4.200-4.200l4.200 4.200" fill="none" stroke="#000" stroke-width="1.300"/>
<circle cx="614.100" cy="44" r="9.700" fill="#ee847d" stroke="#7a7a7a" stroke-width="0.500"/>
<path d="M609.900 42.300l4.200 4.200l4.200-4.200" fill="none" stroke="#000" stroke-width="1.300"/>
<circle cx="636" cy="44" r="9.700" fill="#ffb11b" stroke="#7a7a7a" stroke-width="0.500"/>
<path d="M635.900 39.200l4.100 4.800l-4.100 4.800l-4.100-4.800z" fill="none" stroke="#000" stroke-width="1.300"/>
<circle cx="658.300" cy="44" r="9.700" fill="#1a73e8" stroke="#7a7a7a" stroke-width="0.500"/>
<path d="M662.300 40.800v4.500h-8.300M656.300 43l-2.500 2.300l2.500 2.300" fill="none" stroke="#06132e" stroke-width="1.300"/>
<rect x="680.600" y="39.3" width="12.500" height="1.900" fill="#b9b9b9"/>
<rect x="680.600" y="43.099999999999994" width="12.500" height="1.900" fill="#b9b9b9"/>
<rect x="680.600" y="47.0" width="12.500" height="1.900" fill="#b9b9b9"/>
<path d="M710.300 40l-4.700 4.100l4.700 4.100" fill="none" stroke="#fff" stroke-width="1.500"/>
</g>
</g>
</svg>
</body></html>
